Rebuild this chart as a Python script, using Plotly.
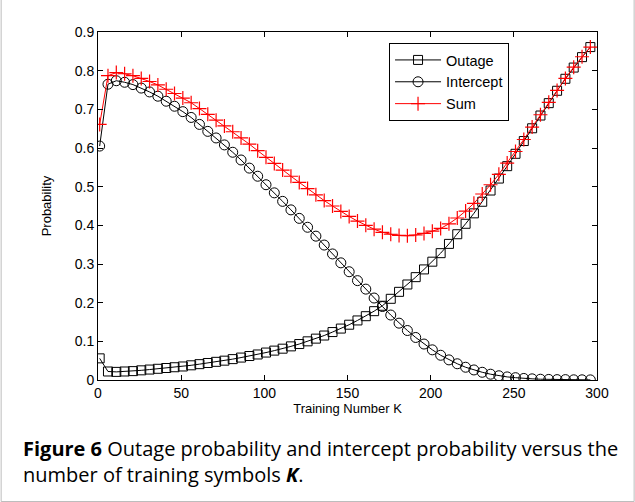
import plotly.graph_objects as go

# ---------------- data ----------------
k_values = list(range(1, 297, 5))  # 1, 6, 11, ..., 296  (60 points)

outage = [0.056, 0.022, 0.021, 0.022, 0.023, 0.025, 0.027, 0.029, 0.031, 0.033,
          0.035, 0.038, 0.041, 0.044, 0.047, 0.050, 0.054, 0.058, 0.062, 0.066,
          0.071, 0.076, 0.081, 0.087, 0.093, 0.100, 0.107, 0.115, 0.124, 0.133,
          0.143, 0.154, 0.165, 0.178, 0.192, 0.210, 0.228, 0.247, 0.266, 0.286,
          0.306, 0.328, 0.352, 0.377, 0.404, 0.431, 0.461, 0.490, 0.521, 0.553,
          0.585, 0.618, 0.651, 0.684, 0.716, 0.748, 0.779, 0.808, 0.835, 0.861]

intercept = [0.605, 0.765, 0.774, 0.770, 0.764, 0.755, 0.745, 0.734, 0.721, 0.708,
             0.694, 0.679, 0.661, 0.643, 0.626, 0.608, 0.589, 0.569, 0.548, 0.527,
             0.505, 0.484, 0.462, 0.440, 0.418, 0.395, 0.372, 0.349, 0.326, 0.303,
             0.280, 0.257, 0.235, 0.212, 0.190, 0.168, 0.147, 0.128, 0.110, 0.093,
             0.078, 0.064, 0.052, 0.042, 0.033, 0.026, 0.020, 0.015, 0.011, 0.008,
             0.006, 0.004, 0.003, 0.002, 0.0015, 0.001, 0.001, 0.0005, 0.0005, 0.0003]

total = [0.661, 0.787, 0.795, 0.792, 0.787, 0.780, 0.772, 0.763, 0.752, 0.741,
         0.729, 0.717, 0.702, 0.687, 0.672, 0.657, 0.642, 0.626, 0.610, 0.593,
         0.576, 0.560, 0.543, 0.527, 0.511, 0.495, 0.479, 0.464, 0.450, 0.436,
         0.423, 0.411, 0.400, 0.390, 0.382, 0.377, 0.374, 0.373, 0.375, 0.379,
         0.385, 0.392, 0.404, 0.419, 0.437, 0.457, 0.481, 0.505, 0.532, 0.561,
         0.591, 0.622, 0.654, 0.686, 0.718, 0.749, 0.780, 0.809, 0.836, 0.861]

x_ticks = [0, 50, 100, 150, 200, 250, 300]
y_ticks = [0, 0.1, 0.2, 0.3, 0.4, 0.5, 0.6, 0.7, 0.8, 0.9]
y_tick_text = ["0", "0.1", "0.2", "0.3", "0.4", "0.5", "0.6", "0.7", "0.8", "0.9"]

series_names = ["Outage", "Intercept", "Sum"]
x_title = "Training Number K"
y_title = "Probability"
caption_line1 = "<b>Figure 6</b> Outage probability and intercept probability versus the"
caption_line2 = "number of training symbols <b><i>K</i></b>."

# ---------------- figure ----------------
W, H = 635, 502
L, R, T, B = 97.5, 37.7, 32, 122
pw, ph = W - L - R, H - T - B

def px_to_paper_x(px):
    return (px - L) / pw

def px_to_paper_y(py):
    return (H - B - py) / ph

tick_font = dict(family="Liberation Sans, Arial, sans-serif", size=14, color="black")
title_font = dict(family="Liberation Sans, Arial, sans-serif", size=13, color="black")
caption_font = dict(family="Open Sans, Noto Sans, sans-serif", size=20, color="black")

fig = go.Figure()
fig.add_trace(go.Scatter(
    x=k_values, y=outage, name=series_names[0], mode="lines+markers",
    line=dict(color="black", width=1),
    marker=dict(symbol="square-open", size=9, color="black", line=dict(color="black", width=1)),
))
fig.add_trace(go.Scatter(
    x=k_values, y=intercept, name=series_names[1], mode="lines+markers",
    line=dict(color="black", width=1),
    marker=dict(symbol="circle-open", size=10, color="black", line=dict(color="black", width=1)),
))
fig.add_trace(go.Scatter(
    x=k_values, y=total, name=series_names[2], mode="lines+markers",
    line=dict(color="red", width=1),
    marker=dict(symbol="cross-thin-open", size=10, color="red", line=dict(color="red", width=1.2)),
))

fig.update_xaxes(
    range=[0, 300], tickvals=x_ticks, ticks="inside", ticklen=5, tickcolor="black",
    showline=True, linecolor="black", linewidth=1, mirror="ticks", showgrid=False,
    zeroline=False, tickfont=tick_font,
    title=dict(text=x_title, font=title_font, standoff=4),
)
fig.update_yaxes(
    range=[0, 0.9], tickvals=y_ticks, ticktext=y_tick_text, ticks="inside", ticklen=5,
    tickcolor="black", showline=True, linecolor="black", linewidth=1, mirror="ticks",
    showgrid=False, zeroline=False, tickfont=tick_font,
    title=dict(text=y_title, font=title_font, standoff=20),
)

fig.update_layout(
    width=W, height=H,
    margin=dict(l=L, r=R, t=T, b=B, autoexpand=False),
    paper_bgcolor="white", plot_bgcolor="white",
    showlegend=True,
    legend=dict(
        x=px_to_paper_x(389), y=px_to_paper_y(43), xanchor="left", yanchor="top",
        bgcolor="white", bordercolor="black", borderwidth=1,
        font=dict(family="Liberation Sans, Arial, sans-serif", size=14.5, color="black"),
        itemwidth=46, tracegroupgap=0,
    ),
    shapes=[dict(
        type="rect", xref="paper", yref="paper",
        x0=px_to_paper_x(0.5), x1=px_to_paper_x(634.5),
        y0=px_to_paper_y(501.5), y1=px_to_paper_y(-5),
        line=dict(color="#bdbdbd", width=1), fillcolor="rgba(0,0,0,0)", layer="below",
    )],
    annotations=[
        dict(text=caption_line1, xref="paper", yref="paper",
             x=px_to_paper_x(20), y=px_to_paper_y(448), xanchor="left", yanchor="middle",
             showarrow=False, align="left", font=caption_font),
        dict(text=caption_line2, xref="paper", yref="paper",
             x=px_to_paper_x(20), y=px_to_paper_y(474), xanchor="left", yanchor="middle",
             showarrow=False, align="left", font=caption_font),
    ],
)

fig.write_html("out.html", config={"displayModeBar": False},
               post_script="document.body.style.margin='0';document.body.style.padding='0';")
